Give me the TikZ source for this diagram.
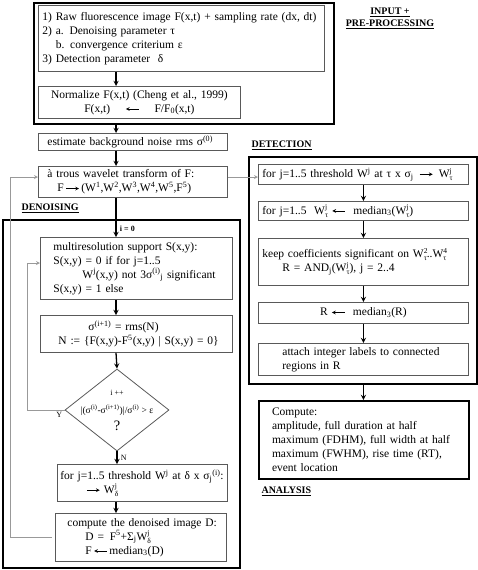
\documentclass[tikz,border=0pt]{standalone}
\usepackage{fontspec}
\setmainfont{Liberation Serif}
\usetikzlibrary{shapes.geometric}
\definecolor{boxgray}{gray}{0.35}
\definecolor{loopgray}{gray}{0.6}
\newcommand{\supsub}[2]{\rlap{\raisebox{0.85ex}{\fontsize{7.5}{8}\selectfont #1}}\raisebox{-0.55ex}{\fontsize{7.5}{8}\selectfont #2}}
\newcommand{\rarr}{\tikz[baseline=-0.6ex]\draw[-stealth,line width=0.7pt] (0pt,0pt) -- (13pt,0pt);}
\newcommand{\larr}{\tikz[baseline=-0.6ex]\draw[stealth-,line width=0.7pt] (0pt,0pt) -- (13pt,0pt);}
\tikzset{pbox/.style={draw=boxgray,line width=0.8pt,anchor=north west,inner xsep=4pt,inner ysep=0pt,align=left}}
\tikzset{outbox/.style={draw,line width=2.4pt,anchor=north west,inner sep=0pt}}
\tikzset{flow/.style={->,>=stealth,line width=1.3pt}}
\tikzset{back/.style={->,>=stealth,loopgray,line width=0.8pt}}
\tikzset{stage/.style={font=\bfseries,anchor=west}}

\begin{document}
\begin{tikzpicture}[x=1pt,y=-1pt,font=\fontsize{11.5}{14}\selectfont]
    \useasboundingbox (0,0) rectangle (478,570);
    \coordinate (sp) at (116,0);
    % input + pre-processing
    \node[outbox,minimum width=300pt,minimum height=121pt] (inbox) at (33,2) {};
    \node[pbox,text width=278pt,minimum height=66pt] (inp) at (38,5)
        {1) Raw fluorescence image F(x,t) + sampling rate (dx, dt)\\
         2) a. Denoising parameter τ\\
         \phantom{2) }b. convergence criterium ε\\
         3) Detection parameter~ δ};
    \node[pbox,align=center,text width=194pt,minimum height=32pt] (norm) at (38,86)
        {Normalize F(x,t) (Cheng et al., 1999)\\
         F(x,t) \quad\larr\quad\ F/F\textsubscript{0}(x,t)};
    \node[font=\bfseries,align=center] (inlab) at (390,18) {\underline{INPUT +}\\ \underline{PRE-PROCESSING}};
    \node[pbox,text width=181pt,minimum height=17pt] (est) at (38,133)
        {\hspace*{5pt}estimate background noise rms σ\textsuperscript{(0)}};
    \node[pbox,text width=181pt,minimum height=31pt] (wav) at (38,166)
        {\hspace*{5pt}à trous wavelet transform of F:\\
         \hspace*{15pt}F\,\rarr\,(W\textsuperscript{1},W\textsuperscript{2},W\textsuperscript{3},W\textsuperscript{4},W\textsuperscript{5},F\textsuperscript{5})};
    % denoising
    \node[stage] (denlab) at (18,208) {\underline{DENOISING}};
    \node[outbox,minimum width=237pt,minimum height=348pt] (denbox) at (2,219) {};
    \node[pbox,text width=184pt,minimum height=62pt] (mrs) at (40,237)
        {\hspace*{9pt}multiresolution support S(x,y):\\
         \hspace*{9pt}S(x,y) = 0 if for j=1..5\\
         \hspace*{38pt}W\textsuperscript{j}(x,y) not 3σ\textsuperscript{(i)}\textsubscript{j} significant\\
         \hspace*{9pt}S(x,y) = 1 else};
    \node[pbox,text width=184pt,minimum height=37pt] (sig) at (40,315)
        {\hspace*{44pt}σ\textsuperscript{(i+1)} = rms(N)\\
         \hspace*{14pt}N := \{F(x,y)-F\textsuperscript{5}(x,y) | S(x,y) = 0\}};
    \node[draw=boxgray,line width=0.8pt,diamond,minimum width=104pt,minimum height=82pt,inner sep=0pt] (dia) at (117,410) {};
    \node[font=\fontsize{9.5}{11}\selectfont,inner sep=1pt,
          label={[font=\footnotesize,label distance=5pt]above:i ++},
          label={[font=\Large,label distance=1pt]below:?}] (diat) at (dia.center)
        {|(σ\textsuperscript{(i)}-σ\textsuperscript{(i+1)})|/σ\textsuperscript{(i)} > ε};
    \node[pbox,inner xsep=3pt,text width=164pt,minimum height=37pt] (thr) at (57,464)
        {\mbox{for j=1..5 threshold W\textsuperscript{j} at δ x σ\textsubscript{j}\textsuperscript{(i)}:}\\
         \hspace*{26pt}\rarr\ W\supsub{j}{δ}};
    \node[pbox,text width=163pt,minimum height=48pt] (den) at (55,513)
        {\hspace*{8pt}compute the denoised image D:\\
         \hspace*{26pt}D = \,F\textsuperscript{5}+Σ\textsubscript{j}W\supsub{j}{δ}\\
         \hspace*{26pt}F\,\larr\,median\textsubscript{3}(D)};
    % detection
    \node[stage] (detlab) at (248,145) {\underline{DETECTION}};
    \node[outbox,minimum width=228pt,minimum height=227pt] (detbox) at (248,156) {};
    \node[pbox,text width=202pt,minimum height=20pt] (d1) at (258,164)
        {for j=1..5 threshold W\textsuperscript{j} at τ x σ\textsubscript{j} \,\rarr\ \,W\supsub{j}{τ}};
    \node[pbox,text width=202pt,minimum height=19pt] (d2) at (258,201)
        {for j=1..5~ W\supsub{j}{τ} \larr\ \ median\textsubscript{3}(W\supsub{j}{τ})};
    \node[pbox,text width=202pt,minimum height=47pt] (d3) at (258,238)
        {keep coefficients significant on W\supsub{2}{τ}..W\supsub{4}{τ}\\
         \hspace*{20pt}R = AND\textsubscript{j}(W\supsub{j}{τ}), j = 2..4};
    \node[pbox,align=center,text width=202pt,minimum height=21pt] (d4) at (258,302)
        {R \larr\ \ median\textsubscript{3}(R)};
    \node[pbox,text width=202pt,minimum height=32pt] (d5) at (258,343)
        {\hspace*{20pt}attach integer labels to connected\\
         \hspace*{20pt}regions in R};
    % analysis
    \node[pbox,draw=black,line width=2pt,text width=202pt,minimum height=78pt] (comp) at (258,400)
        {\hspace*{9pt}Compute:\\
         \hspace*{9pt}amplitude, full duration at half\\
         \hspace*{9pt}maximum (FDHM), full width at half\\
         \hspace*{9pt}maximum (FWHM), rise time (RT),\\
         \hspace*{9pt}event location};
    \node[stage] (analab) at (258,491) {\underline{ANALYSIS}};
    % main flow
    \draw[flow] (inp.south -| sp) -- (norm.north -| sp);
    \draw[flow] (inbox.south -| sp) -- (est.north -| sp);
    \draw[flow] (est.south -| sp) -- (wav.north -| sp);
    \draw[flow] (wav.south -| sp) -- node[pos=0.8,right,font=\footnotesize\bfseries] {i = 0} (mrs.north -| sp);
    \draw[flow] (mrs.south -| sp) -- (sig.north -| sp);
    \draw[flow] (sig.south -| sp) -- (dia.north);
    \draw[flow] (dia.south) -- node[right,font=\footnotesize] {N} (thr.north -| dia.south);
    \draw[flow] (thr.south -| sp) -- (den.north -| sp);
    \draw[flow] (d1) -- (d2);
    \draw[flow] (d2) -- (d3);
    \draw[flow] (d3) -- (d4);
    \draw[flow] (d4) -- (d5);
    \draw[flow] (detbox.south -| d5.south) -- (comp.north -| d5.south);
    % loops
    \coordinate (lp) at (27,263);
    \coordinate (lo) at (10,177);
    \draw[back] (dia.west) node[below left,text=black,font=\footnotesize,inner sep=2pt] {Y} -| (lp) -- (lp -| mrs.west);
    \draw[back] ([xshift=-3pt]den.west) -| (lo) -- (lo -| wav.west);
    \draw[back] (wav.east |- lo) -- (lo -| d1.west);
\end{tikzpicture}
\end{document}
